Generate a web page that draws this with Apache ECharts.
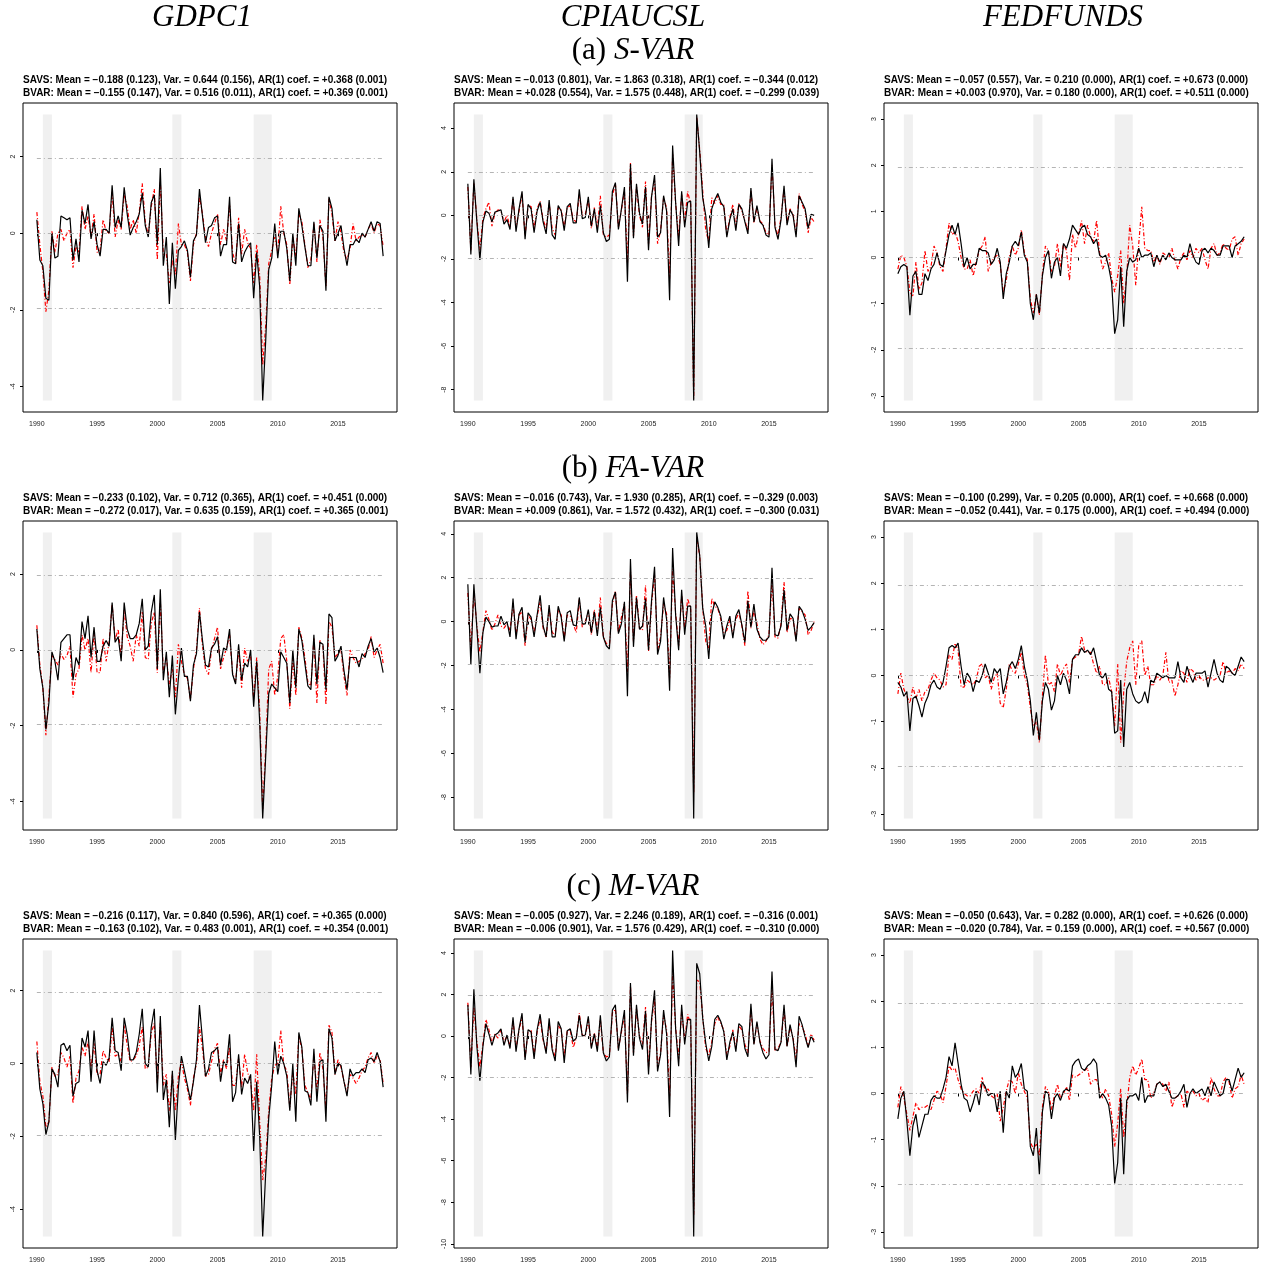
<!DOCTYPE html>
<html>
<head>
<meta charset="utf-8">
<script src="https://cdn.jsdelivr.net/npm/echarts@6/dist/echarts.min.js"></script>
<style>
  html, body { margin: 0; padding: 0; background: #fff; }
  #main { width: 1265px; height: 1269px; }
</style>
</head>
<body>
<div id="main"></div>
<script>
// quarterly dates 1990Q1 .. 2018Q4
const quarters = [];
for (let y = 1990; y <= 2018; y++) {
  for (let q = 0; q < 4; q++) quarters.push(y + q / 4);
}

const columnNames = ["GDPC1", "CPIAUCSL", "FEDFUNDS"];
const rowNames = [["(a) ", "S-VAR"], ["(b) ", "FA-VAR"], ["(c) ", "M-VAR"]];
const recessions = [[1990.5, 1991.25], [2001.25, 2002.0], [2008.0, 2009.5]];
const xTicks = [1990, 1995, 2000, 2005, 2010, 2015];
const bandLevels = [-1.96, 0, 1.96];

// ---- S-VAR ----
const gdpSavsA = [
  0.35, -0.7, -0.85, -1.7, -1.75, 0.0, -0.65, -0.6, 0.45, 0.4, 0.35, 0.4,
  -0.7, -0.15, -0.75, 0.6, 0.25, 0.75, -0.15, 0.3, -0.3, -0.6, 0.1, 0.1,
  0.0, 1.25, 0.15, 0.45, 0.15, 1.2, 0.5, -0.05, 0.15, 0.3, 0.5, 1.05,
  0.2, -0.1, 0.8, 1.0, -0.3, 1.7, -0.85, -0.1, -1.85, -0.25, -1.45, -0.45,
  -0.35, -0.2, -0.45, -1.15, -0.2, -0.05, 1.15, 0.45, -0.25, 0.15, 0.2, 0.4,
  0.45, -0.6, -0.3, -0.3, 0.95, -0.75, -0.8, 0.25, -0.75, -0.5, -0.35, -0.25,
  -1.7, -0.5, -1.4, -4.37, -2.8, -0.95, -0.65, 0.25, -0.65, 0.05, 0.05, -0.4,
  -1.25, 0.0, -0.85, 0.65, 0.2, -0.35, -0.85, -0.85, 0.3, -0.65, 0.2, 0.05,
  -1.5, 0.95, 0.65, -0.2, 0.0, 0.2, -0.4, -0.85, -0.3, -0.3, -0.15, -0.25,
  0.0, -0.1, 0.1, 0.3, 0.05, 0.3, 0.25, -0.6
];
const gdpBvarA = [
  0.55, -0.3, -1.0, -2.05, -1.5, 0.05, -0.5, 0.0, 0.1, -0.2, 0.0, 0.1,
  -0.9, -0.35, -0.5, 0.7, 0.1, 0.45, -0.1, 0.5, -0.5, -0.45, 0.35, 0.05,
  0.0, 1.1, -0.1, 0.35, 0.1, 1.0, 0.7, 0.1, 0.35, 0.0, 0.55, 1.3,
  0.3, -0.05, 0.7, 1.15, -0.7, 1.35, -0.55, -0.55, -1.3, -0.7, -1.1, 0.25,
  -0.3, -0.3, -0.5, -1.25, -0.3, 0.0, 0.95, 0.5, -0.1, -0.35, 0.0, 0.25,
  0.5, -0.3, 0.1, -0.2, 0.75, -0.5, -0.8, 0.4, -0.55, 0.1, -0.25, -0.4,
  -1.3, -0.3, -1.1, -3.45, -2.4, -0.8, -0.45, -0.1, -0.5, 0.7, 0.0, -0.3,
  -1.35, -0.1, -0.6, 0.5, 0.3, -0.3, -0.9, -0.7, 0.25, -0.75, 0.35, -0.1,
  -1.4, 0.9, 0.5, -0.2, 0.3, 0.0, -0.5, -0.7, -0.4, 0.25, -0.2, -0.1,
  -0.05, -0.1, 0.1, 0.25, 0.0, 0.25, 0.2, -0.35
];
const cpiSavsA = [
  1.45, -1.8, 1.65, -0.3, -2.05, -0.3, 0.2, 0.1, -0.3, 0.15, 0.2, 0.25,
  -0.4, -0.2, -0.65, 0.85, -0.75, 0.3, 1.1, -1.1, 0.5, 0.3, -0.8, 0.2,
  0.6, -0.3, -0.85, 0.7, -0.9, -1.1, 0.45, 0.2, -0.7, 0.4, 0.55, -0.35,
  -0.35, 1.2, -0.15, -0.1, 0.85, -0.5, 0.3, -0.8, 0.45, -0.8, -1.2, -1.1,
  1.1, 1.5, -0.65, 0.3, 1.3, -3.05, 2.35, -1.05, 1.45, 0.1, -0.4, 1.3,
  -1.6, 0.85, 1.85, -1.0, -0.8, 0.9, 0.2, -3.9, 3.2, 0.6, -1.4, 1.1,
  -0.55, 0.6, 0.65, -8.5, 4.63, 2.9, 0.8, 0.0, -1.5, 0.3, 0.7, 1.0,
  0.6, 0.4, -1.0, -0.2, 0.3, -0.7, 0.5, 0.3, -0.3, -0.85, 1.25, -0.3,
  0.45, -0.3, -0.45, -0.9, -1.0, 2.6, -0.55, -1.1, -0.2, 1.35, -0.45, 0.25,
  0.0, -1.0, 0.9, 0.6, 0.3, -0.6, 0.05, 0.0
];
const cpiBvarA = [
  1.3, -1.6, 1.5, -0.2, -1.6, -0.15, 0.3, 0.6, -0.5, 0.1, 0.25, 0.2,
  -0.3, 0.0, -0.55, 0.75, -0.55, 0.2, 0.95, -0.9, 0.45, 0.4, -0.6, 0.3,
  0.65, -0.2, -0.6, 0.55, -0.6, -0.9, 0.35, 0.25, -0.55, 0.35, 0.45, -0.2,
  -0.3, 0.95, 0.0, 0.05, 0.7, -0.6, 0.35, -0.6, 0.9, -0.9, -1.0, -0.9,
  0.9, 1.45, -0.55, 0.25, 1.1, -2.2, 2.4, -0.95, 1.3, 0.0, -0.55, 1.55,
  -1.3, 0.9, 1.6, -1.3, -0.7, 0.8, 0.35, -2.9, 2.8, 0.55, -1.0, 0.95,
  -0.3, 1.1, 0.5, -8.4, 4.5, 3.0, 1.1, -0.7, -1.2, 0.8, 0.55, 0.9,
  0.5, 0.5, -0.9, -0.1, 0.5, -0.55, 0.55, 0.2, -0.25, -0.7, 1.1, -0.35,
  0.35, -0.25, -0.4, -0.8, -0.9, 2.3, -0.45, -0.95, -0.1, 1.2, -0.35, 0.3,
  0.05, -0.85, 1.0, 0.5, 0.2, -0.8, -0.1, -0.3
];
const fedSavsA = [
  -0.35, -0.2, -0.15, -0.2, -1.25, -0.4, -0.3, -0.8, -0.8, -0.35, -0.5, -0.25,
  -0.15, 0.1, -0.15, -0.2, 0.15, 0.5, 0.7, 0.5, 0.75, 0.3, -0.2, 0.0,
  -0.25, -0.15, -0.15, 0.2, 0.15, 0.15, 0.1, -0.15, -0.05, 0.2, -0.1, -0.9,
  -0.35, -0.1, 0.25, 0.35, 0.25, 0.55, 0.05, -0.1, -1.0, -1.35, -0.8, -1.2,
  -0.4, 0.0, 0.15, -0.45, -0.1, 0.0, -0.4, 0.3, 0.2, 0.4, 0.7, 0.6,
  0.5, 0.65, 0.7, 0.5, 0.45, 0.3, 0.4, 0.05, 0.0, 0.05, -0.2, -0.55,
  -1.65, -1.35, -0.2, -1.5, -0.3, 0.0, -0.1, -0.05, 0.2, 0.0, 0.05, 0.05,
  0.1, -0.2, 0.05, -0.1, 0.05, -0.05, 0.1, 0.0, -0.05, -0.05, -0.05, 0.05,
  0.0, 0.3, 0.05, -0.1, -0.15, 0.15, 0.2, 0.1, 0.2, 0.15, 0.05, 0.05,
  0.25, 0.25, 0.25, 0.0, 0.25, 0.3, 0.35, 0.45
];
const fedBvarA = [
  -0.25, 0.05, 0.0, -0.2, -0.75, -0.85, -0.1, -0.7, -0.55, 0.15, -0.3, -0.2,
  0.25, 0.1, -0.2, -0.3, 0.2, 0.75, 0.5, 0.55, 0.35, 0.0, -0.25, -0.25,
  -0.05, -0.4, -0.1, 0.15, 0.25, 0.45, -0.3, -0.1, 0.0, 0.05, -0.15, -0.75,
  -0.5, 0.0, 0.25, 0.05, 0.2, 0.6, 0.1, -0.05, -0.9, -1.2, -0.8, -1.25,
  -0.35, 0.25, 0.15, -0.3, -0.2, 0.3, -0.2, 0.3, 0.15, -0.5, 0.5, 0.2,
  0.5, 0.8, 0.3, 0.7, 0.45, 0.35, 0.8, 0.1, -0.25, -0.1, 0.1, -0.45,
  -0.75, -0.4, 0.15, -1.0, -0.4, 0.7, 0.25, -0.6, 0.3, 1.1, 0.2, 0.15,
  0.15, -0.1, 0.05, -0.15, 0.1, 0.05, 0.0, 0.2, -0.05, -0.25, 0.0, 0.1,
  -0.05, 0.15, 0.0, 0.2, 0.1, 0.2, -0.05, -0.25, 0.2, 0.3, 0.05, 0.1,
  0.3, 0.2, 0.15, 0.4, 0.45, 0.05, 0.3, 0.4
];

// ---- FA-VAR ----
const gdpSavsB = [
  0.55, -0.5, -1.0, -2.1, -1.4, -0.05, -0.3, -0.8, 0.2, 0.3, 0.4, 0.4,
  -0.8, -0.2, -0.4, 0.75, 0.3, 0.9, -0.2, 0.6, -0.3, -0.3, 0.1, 0.25,
  0.1, 1.25, 0.2, 0.35, -0.3, 1.25, 0.55, 0.3, 0.3, 0.4, 0.7, 1.35,
  0.0, 0.1, 1.0, 1.45, -0.5, 1.6, -0.8, -0.05, -1.25, -0.15, -1.7, -0.75,
  0.05, -0.7, -0.7, -1.35, -0.4, -0.1, 1.0, 0.25, -0.4, -0.45, 0.05, 0.15,
  0.35, -0.4, 0.05, 0.0, 0.55, -0.65, -0.9, 0.15, -0.8, -0.35, -0.45, 0.0,
  -1.5, -0.3, -1.9, -4.45, -2.8, -1.15, -0.9, -1.0, -1.1, -0.05, -0.2, -0.35,
  -1.4, 0.0, -1.0, 0.55, 0.25, -0.35, -0.95, -1.05, 0.4, -0.9, 0.2, 0.15,
  -1.05, 0.95, 0.85, -0.3, -0.15, 0.1, -0.55, -1.05, -0.2, -0.2, -0.2, -0.45,
  -0.1, -0.2, 0.1, 0.3, -0.05, 0.05, -0.2, -0.6
];
const gdpBvarB = [
  0.65, -0.4, -1.0, -2.25, -1.2, -0.15, -0.25, -0.4, -0.1, -0.25, -0.15, 0.1,
  -1.25, -0.65, -0.5, 0.4, 0.0, 0.3, -0.6, 0.45, -0.6, -0.6, 0.3, -0.3,
  0.2, 1.2, 0.25, 0.55, -0.2, 1.05, 0.35, 0.1, -0.3, 0.4, 0.1, 1.0,
  -0.2, -0.25, 0.7, 1.0, -0.6, 1.3, -0.6, -0.2, -0.9, -0.5, -1.25, 0.15,
  -0.3, -0.65, -0.75, -1.3, -0.5, 0.0, 1.1, 0.1, -0.5, -0.65, 0.0, 0.3,
  0.6, -0.5, -0.2, 0.05, 0.4, -0.6, -0.85, 0.0, -1.0, 0.05, -0.3, -0.15,
  -1.3, -0.2, -1.6, -4.2, -2.6, -0.5, -0.3, -1.2, -0.7, 0.3, 0.4, -0.3,
  -1.55, -0.2, -1.2, 0.6, 0.3, -0.2, -0.85, -0.95, 0.3, -1.4, 0.25, 0.1,
  -1.45, 0.75, 0.6, -0.2, -0.1, 0.0, -0.7, -1.2, 0.0, -0.2, -0.35, -0.3,
  -0.25, -0.1, 0.0, 0.35, -0.2, 0.0, 0.15, -0.35
];
const cpiSavsB = [
  1.7, -1.95, 1.7, -0.3, -2.35, -0.5, 0.2, 0.0, -0.25, -0.2, -0.2, 0.25,
  -0.15, 0.0, -0.7, 1.05, -0.8, 0.35, 0.65, -0.95, 0.4, 0.2, -0.7, 0.3,
  1.2, -0.2, -0.7, 0.75, -0.7, -0.7, 0.7, 0.2, -0.9, 0.4, 0.5, -0.15,
  -0.2, 1.1, -0.1, -0.1, 0.55, -0.5, 0.45, -0.65, 0.65, -0.7, -1.1, -1.25,
  0.95, 1.35, -0.55, -0.1, 0.9, -3.4, 2.85, -1.15, 1.1, -0.35, -0.2, 1.05,
  -1.3, 0.95, 2.5, -1.5, -0.9, 1.1, 0.1, -3.15, 3.35, 0.3, -1.3, 1.45,
  -0.6, 0.7, 0.7, -8.97, 4.06, 3.0, 0.6, -0.2, -1.7, 0.3, 0.9, 0.65,
  0.25, -0.8, -0.2, 0.25, -0.75, 0.25, 0.55, -0.15, -0.95, 0.95, -0.25, 0.8,
  -0.35, -0.7, -0.85, -0.85, -0.7, 2.45, -0.6, -0.65, -0.2, 1.45, -0.4, 0.35,
  0.15, -0.9, 0.7, 0.5, 0.1, -0.4, -0.25, -0.05
];
const cpiBvarB = [
  1.3, -1.3, 1.35, -0.2, -1.4, -0.45, 0.5, 0.1, -0.4, -0.1, 0.3, -0.2,
  -0.3, -0.1, -0.4, 0.8, -0.6, 0.3, 0.45, -1.1, 0.3, 0.1, -0.5, 0.25,
  0.9, -0.3, -0.7, 0.6, -0.5, -0.6, 0.55, 0.3, -0.75, 0.3, 0.25, -0.1,
  -0.5, 1.0, -0.25, 0.0, 0.45, -0.6, 0.55, -0.5, 1.1, -0.7, -1.0, -1.1,
  0.8, 1.4, -0.5, 0.2, 0.8, -2.3, 2.3, -0.9, 1.2, -0.3, -0.4, 1.65,
  -1.35, 0.8, 2.15, -1.3, -0.7, 0.8, 0.35, -2.6, 2.4, 0.4, -1.1, 1.2,
  -0.3, 1.05, 0.55, -7.8, 3.8, 3.0, 0.6, -0.9, -1.2, 1.05, 0.7, 0.6,
  0.1, -0.5, -0.4, 0.1, -0.6, 0.1, 0.4, -0.2, -1.1, 1.4, -0.3, 0.5,
  -0.1, -0.8, -1.05, -0.9, -0.6, 1.9, -0.7, -0.75, -0.1, 1.8, -0.5, 0.15,
  0.1, -0.8, 0.6, 0.45, 0.3, -0.6, -0.4, 0.0
];
const fedSavsB = [
  -0.15, -0.25, -0.45, -0.35, -1.2, -0.5, -0.45, -0.65, -0.9, -0.6, -0.45, -0.2,
  -0.1, -0.25, -0.3, -0.15, 0.2, 0.6, 0.65, 0.6, 0.7, 0.2, -0.2, 0.05,
  -0.05, -0.35, -0.1, -0.15, 0.0, 0.25, 0.05, -0.15, 0.15, 0.05, 0.15, -0.4,
  -0.15, 0.2, 0.3, 0.15, 0.35, 0.65, 0.2, -0.1, -0.55, -1.3, -0.8, -1.4,
  -0.55, -0.15, -0.3, -0.75, -0.55, 0.0, -0.2, 0.05, -0.1, -0.4, 0.35, 0.45,
  0.45, 0.6, 0.5, 0.55, 0.45, 0.6, 0.3, 0.0, -0.05, 0.05, -0.3, -0.35,
  -1.25, -1.2, -0.1, -1.55, -0.3, -0.15, -0.4, -0.55, -0.6, -0.55, -0.35, -0.6,
  -0.1, -0.15, 0.05, 0.0, -0.05, 0.0, -0.05, -0.05, -0.05, 0.3, -0.05, -0.15,
  0.2, 0.0, -0.15, 0.05, 0.05, 0.05, 0.1, -0.25, 0.05, 0.35, 0.05, -0.1,
  -0.15, 0.2, 0.15, 0.05, 0.0, 0.2, 0.4, 0.3
];
const fedBvarB = [
  -0.4, 0.05, -0.3, -0.45, -0.6, -0.25, -0.5, -0.3, -0.55, -0.35, -0.3, -0.1,
  0.05, -0.05, -0.1, -0.25, -0.2, 0.45, 0.35, 0.7, 0.55, -0.25, -0.25, -0.1,
  -0.15, -0.2, -0.1, 0.2, 0.25, -0.05, 0.0, -0.3, -0.05, 0.05, -0.6, -0.7,
  -0.3, 0.25, 0.1, 0.05, 0.25, 0.5, 0.0, -0.2, -0.7, -1.1, -1.0, -1.45,
  -0.45, 0.45, -0.2, -0.15, -0.35, 0.25, 0.0, 0.15, 0.25, -0.15, 0.35, 0.4,
  0.45, 0.85, 0.55, 0.5, 0.5, 0.25, 0.05, 0.2, -0.2, -0.2, -0.05, -0.35,
  -1.1, 0.25, -1.45, -0.35, 0.3, 0.6, 0.75, -0.2, 0.65, 0.75, 0.0, 0.2,
  -0.2, -0.2, 0.0, -0.1, 0.0, 0.5, -0.15, -0.1, -0.45, -0.2, 0.1, 0.05,
  -0.15, 0.15, 0.1, -0.1, 0.0, -0.1, -0.1, -0.05, -0.05, -0.1, -0.05, 0.0,
  0.3, 0.05, 0.1, 0.05, 0.15, 0.1, 0.25, 0.15
];

// ---- M-VAR ----
const gdpSavsC = [
  0.3, -0.7, -1.1, -1.95, -1.6, -0.15, -0.3, -0.65, 0.5, 0.55, 0.35, 0.5,
  -0.9, -0.55, -0.5, 0.7, 0.45, 0.9, -0.5, 0.9, -0.2, -0.55, 0.05, -0.05,
  0.15, 1.25, 0.35, 0.3, -0.2, 1.25, 0.8, 0.1, 0.1, 0.3, 0.8, 1.5,
  0.0, -0.1, 1.0, 1.5, -0.8, 1.3, -1.0, -0.45, -1.75, -0.2, -2.1, -0.65,
  0.2, -0.2, -0.6, -1.0, -0.5, 0.1, 1.6, 0.65, -0.35, -0.15, 0.3, 0.35,
  0.45, -0.5, 0.05, -0.05, 0.8, -1.05, -0.8, 0.25, -0.85, -0.4, -0.55, -0.3,
  -2.4, -0.5, -2.0, -4.75, -3.0, -1.5, -0.6, 0.6, -0.3, 0.2, 0.0, -0.35,
  -1.3, 0.0, -1.6, 0.85, 0.45, -0.75, -0.8, -1.15, 0.4, -1.05, 0.05, 0.1,
  -1.6, 0.95, 0.7, -0.3, 0.0, -0.05, -0.5, -0.9, -0.15, -0.35, -0.25, -0.25,
  -0.15, -0.25, 0.1, 0.15, 0.05, 0.3, 0.05, -0.65
];
const gdpBvarC = [
  0.6, -0.5, -0.9, -1.75, -1.6, -0.1, -0.35, -0.3, 0.3, 0.15, -0.1, 0.2,
  -1.1, -0.4, -0.2, 0.45, 0.2, 0.6, -0.1, 0.55, -0.3, -0.3, 0.35, 0.15,
  0.05, 1.0, 0.2, 0.25, 0.05, 1.05, 0.5, 0.05, 0.1, 0.2, 0.5, 1.0,
  -0.15, -0.1, 0.85, 1.1, -0.55, 1.1, -0.6, -0.3, -1.3, -0.3, -1.3, -0.35,
  0.05, -0.4, -0.7, -1.15, -0.4, 0.0, 1.0, 0.4, -0.35, -0.3, 0.05, 0.4,
  0.55, -0.3, 0.1, -0.15, 0.45, -0.6, -0.6, 0.15, -0.65, 0.25, -0.25, -0.5,
  -1.3, 0.25, -1.6, -3.2, -2.6, -1.3, -0.4, -0.05, 0.0, 0.9, -0.05, -0.2,
  -1.2, -0.25, -0.85, 0.75, 0.4, -0.6, -0.8, -1.0, 0.25, -0.8, 0.3, -0.15,
  -1.25, 1.05, 0.85, -0.3, 0.1, -0.1, -0.5, -0.8, -0.3, -0.4, -0.55, -0.4,
  -0.2, -0.1, 0.15, 0.3, 0.0, 0.2, 0.1, -0.55
];
const cpiSavsC = [
  1.5, -1.85, 2.25, -0.5, -2.15, -0.5, 0.6, 0.1, -0.45, 0.05, 0.15, 0.35,
  -0.45, 0.05, -0.6, 0.9, -0.75, 0.35, 1.1, -1.15, 0.3, 0.2, -1.1, 0.3,
  1.05, -0.1, -0.85, 0.85, -0.65, -1.2, 0.7, 0.35, -1.3, 0.25, 0.35, -0.25,
  -0.1, 1.0, 0.0, 0.05, 0.95, -0.6, 0.1, -0.75, 1.0, -0.8, -1.2, -1.0,
  1.25, 1.5, -0.7, 0.3, 1.25, -3.2, 2.55, -0.95, 1.5, -0.1, -0.65, 1.2,
  -1.85, 0.8, 2.2, -1.7, -0.9, 1.25, 0.1, -3.9, 4.12, 0.35, -1.45, 1.5,
  -0.4, 0.8, 0.8, -9.65, 3.5, 3.0, 0.85, -0.35, -1.2, -0.5, 0.8, 1.0,
  0.7, 0.2, -1.15, -0.3, 0.2, -0.75, 0.6, 0.45, -0.6, -1.0, 1.55, -0.4,
  0.7, -0.3, -0.8, -1.1, -0.9, 3.1, -0.65, -0.7, -0.3, 1.5, -0.5, 0.55,
  -0.15, -1.5, 0.95, 0.55, -0.05, -0.55, 0.0, -0.3
];
const cpiBvarC = [
  1.6, -1.5, 1.4, -0.3, -1.5, -0.4, 0.8, 0.3, -0.35, 0.1, -0.1, 0.3,
  -0.3, 0.0, -0.5, 0.7, -0.6, 0.3, 0.9, -1.05, 0.25, 0.3, -0.9, 0.2,
  0.85, -0.2, -0.7, 0.65, -0.55, -1.0, 0.5, 0.3, -1.0, 0.25, 0.3, -0.55,
  -0.1, 1.1, 0.05, 0.0, 0.8, -0.5, 0.15, -0.6, 0.8, -0.8, -1.0, -0.95,
  1.1, 1.3, -0.6, 0.2, 1.0, -2.8, 2.4, -0.8, 1.3, 0.0, -0.4, 1.4,
  -1.5, 0.7, 1.8, -1.5, -0.8, 1.0, 0.3, -2.9, 3.0, 0.4, -1.1, 1.2,
  -0.2, 1.05, 0.55, -8.6, 2.7, 2.6, 0.9, -0.6, -0.9, -0.3, 0.6, 0.9,
  0.6, 0.3, -0.9, -0.5, 0.3, -0.6, 0.5, 0.3, -0.4, -0.8, 1.3, -0.4,
  0.6, -0.25, -0.6, -0.8, -0.75, 2.4, -0.7, -0.6, -0.3, 1.3, -0.5, 0.45,
  -0.1, -1.1, 0.6, 0.45, 0.1, -0.5, 0.1, -0.2
];
const fedSavsC = [
  -0.55, -0.1, 0.05, -0.6, -1.35, -0.7, -0.45, -0.95, -0.7, -0.45, -0.45, -0.15,
  -0.05, -0.1, -0.1, 0.1, 0.35, 0.8, 0.6, 1.1, 0.65, 0.2, -0.1, -0.15,
  -0.4, -0.2, 0.05, -0.25, 0.25, 0.15, -0.05, 0.0, 0.0, -0.4, 0.05, -0.85,
  0.05, -0.1, 0.6, 0.35, 0.45, 0.65, 0.1, 0.05, -1.15, -1.35, -0.75, -1.75,
  -0.4, 0.05, 0.0, -0.55, -0.1, 0.0, -0.15, 0.05, 0.1, 0.05, 0.6, 0.7,
  0.75, 0.55, 0.5, 0.6, 0.65, 0.75, 0.65, -0.1, 0.0, -0.1, -0.25, -0.7,
  -1.95, -1.5, -0.1, -1.75, -0.15, -0.05, -0.05, 0.0, -0.15, 0.35, -0.2, -0.05,
  -0.05, -0.05, 0.2, 0.25, 0.15, 0.2, 0.05, -0.1, -0.1, -0.05, 0.05, 0.2,
  -0.3, 0.0, 0.1, 0.0, 0.05, 0.1, -0.05, 0.15, -0.05, 0.25, 0.1, -0.05,
  0.0, 0.3, 0.3, 0.05, 0.3, 0.55, 0.35, 0.45
];
const fedBvarC = [
  -0.3, 0.15, -0.1, -0.45, -0.8, -0.5, -0.2, -0.35, -0.3, -0.3, -0.25, -0.35,
  -0.15, 0.05, 0.0, -0.2, 0.15, 0.6, 0.5, 0.55, 0.3, 0.1, 0.0, -0.05,
  -0.05, 0.05, 0.1, 0.0, 0.35, 0.05, 0.1, -0.05, -0.1, 0.0, -0.6, -0.3,
  0.05, 0.3, 0.25, 0.0, 0.45, 0.2, 0.05, -0.1, -1.05, -1.2, -1.1, -1.35,
  -0.3, 0.15, 0.05, -0.35, -0.05, 0.2, -0.1, 0.0, 0.15, -0.15, 0.4, 0.35,
  0.4, 0.45, 0.5, 0.55, 0.2, 0.3, 0.3, 0.05, -0.1, 0.1, -0.05, -0.45,
  -1.15, -0.65, 0.1, -0.95, -0.3, 0.35, 0.6, 0.4, 0.55, 0.75, 0.3, 0.3,
  -0.1, 0.0, 0.2, 0.25, 0.2, 0.05, 0.25, -0.3, -0.1, -0.05, 0.0, -0.3,
  0.05, 0.0, 0.05, -0.05, 0.0, -0.15, -0.1, -0.2, 0.35, 0.1, -0.05, -0.05,
  0.25, 0.35, 0.25, -0.1, 0.1, 0.15, 0.4, 0.2
];

const panelSeries = [
  [[gdpSavsA, gdpBvarA], [cpiSavsA, cpiBvarA], [fedSavsA, fedBvarA]],
  [[gdpSavsB, gdpBvarB], [cpiSavsB, cpiBvarB], [fedSavsB, fedBvarB]],
  [[gdpSavsC, gdpBvarC], [cpiSavsC, cpiBvarC], [fedSavsC, fedBvarC]],
];

const panelStats = [
  [
    ["SAVS: Mean = \u22120.188 (0.123), Var. = 0.644 (0.156), AR(1) coef. = +0.368 (0.001)",
     "BVAR: Mean = \u22120.155 (0.147), Var. = 0.516 (0.011), AR(1) coef. = +0.369 (0.001)"],
    ["SAVS: Mean = \u22120.013 (0.801), Var. = 1.863 (0.318), AR(1) coef. = \u22120.344 (0.012)",
     "BVAR: Mean = +0.028 (0.554), Var. = 1.575 (0.448), AR(1) coef. = \u22120.299 (0.039)"],
    ["SAVS: Mean = \u22120.057 (0.557), Var. = 0.210 (0.000), AR(1) coef. = +0.673 (0.000)",
     "BVAR: Mean = +0.003 (0.970), Var. = 0.180 (0.000), AR(1) coef. = +0.511 (0.000)"],
  ],
  [
    ["SAVS: Mean = \u22120.233 (0.102), Var. = 0.712 (0.365), AR(1) coef. = +0.451 (0.000)",
     "BVAR: Mean = \u22120.272 (0.017), Var. = 0.635 (0.159), AR(1) coef. = +0.365 (0.001)"],
    ["SAVS: Mean = \u22120.016 (0.743), Var. = 1.930 (0.285), AR(1) coef. = \u22120.329 (0.003)",
     "BVAR: Mean = +0.009 (0.861), Var. = 1.572 (0.432), AR(1) coef. = \u22120.300 (0.031)"],
    ["SAVS: Mean = \u22120.100 (0.299), Var. = 0.205 (0.000), AR(1) coef. = +0.668 (0.000)",
     "BVAR: Mean = \u22120.052 (0.441), Var. = 0.175 (0.000), AR(1) coef. = +0.494 (0.000)"],
  ],
  [
    ["SAVS: Mean = \u22120.216 (0.117), Var. = 0.840 (0.596), AR(1) coef. = +0.365 (0.000)",
     "BVAR: Mean = \u22120.163 (0.102), Var. = 0.483 (0.001), AR(1) coef. = +0.354 (0.001)"],
    ["SAVS: Mean = \u22120.005 (0.927), Var. = 2.246 (0.189), AR(1) coef. = \u22120.316 (0.001)",
     "BVAR: Mean = \u22120.006 (0.901), Var. = 1.576 (0.429), AR(1) coef. = \u22120.310 (0.000)"],
    ["SAVS: Mean = \u22120.050 (0.643), Var. = 0.282 (0.000), AR(1) coef. = +0.626 (0.000)",
     "BVAR: Mean = \u22120.020 (0.784), Var. = 0.159 (0.000), AR(1) coef. = +0.567 (0.000)"],
  ],
];

// y ticks per panel
const gdpTicks = [-4, -2, 0, 2];
const cpiTicks = [-8, -6, -4, -2, 0, 2, 4];
const cpiTicksC = [-10, -8, -6, -4, -2, 0, 2, 4];
const fedTicks = [-3, -2, -1, 0, 1, 2, 3];
const panelTicks = [
  [gdpTicks, cpiTicks, fedTicks],
  [gdpTicks, cpiTicks, fedTicks],
  [gdpTicks, cpiTicksC, fedTicks],
];

// layout
const gridLefts = [23, 454, 884];
const gridTops = [103, 521, 939];
const gridW = 374, gridH = 309;
const xMin = 1988.85, xMax = 2019.9;
const FED_LIM = 3.1, GDP_TOP = 3.1;
const serif = "'Liberation Serif', 'DejaVu Serif', serif";

const chart = echarts.init(document.getElementById("main"));

const grid = [], xAxis = [], yAxis = [], series = [], graphic = [];

columnNames.forEach((name, c) => {
  graphic.push({
    type: "text",
    x: gridLefts[c] + gridW / 2 - 8,
    y: 18,
    style: {
      text: name,
      font: "italic 31px " + serif,
      fill: "#000",
      align: "center",
      verticalAlign: "middle",
      textAlign: "center",
      textVerticalAlign: "middle",
    },
  });
});

for (let r = 0; r < 3; r++) {
  graphic.push({
    type: "text",
    x: 633,
    y: gridTops[r] - 52,
    style: {
      text: rowNames[r][0] + "{i|" + rowNames[r][1] + "}",
      fontFamily: serif,
      fontSize: 31,
      fill: "#000",
      align: "center",
      verticalAlign: "middle",
      textAlign: "center",
      textVerticalAlign: "middle",
      rich: {
        i: { fontFamily: serif, fontSize: 31, fontStyle: "italic", fill: "#000" },
      },
    },
  });

  for (let c = 0; c < 3; c++) {
    const idx = r * 3 + c;
    const [savs, bvar] = panelSeries[r][c];
    const all = savs.concat(bvar);
    let lo = Math.min(...all), hi = Math.max(...all);
    if (c === 2) { lo = Math.min(lo, -FED_LIM); hi = Math.max(hi, FED_LIM); }
    if (c === 0) { hi = Math.max(hi, GDP_TOP); }
    const pad = (hi - lo) * 0.04;

    grid.push({
      left: gridLefts[c],
      top: gridTops[r],
      width: gridW,
      height: gridH,
      show: true,
      borderColor: "#000",
      borderWidth: 1,
      backgroundColor: "transparent",
    });
    xAxis.push({
      type: "value",
      gridIndex: idx,
      min: xMin,
      max: xMax,
      axisLine: { show: false },
      splitLine: { show: false },
      axisTick: { show: true, length: 3, customValues: xTicks, lineStyle: { color: "#000" } },
      axisLabel: {
        customValues: xTicks,
        formatter: (v) => String(v),
        fontSize: 7,
        color: "#222",
        margin: 9,
        fontFamily: "'Liberation Sans', Arial, sans-serif",
      },
    });
    yAxis.push({
      type: "value",
      gridIndex: idx,
      min: lo - pad,
      max: hi + pad,
      axisLine: { show: false },
      splitLine: { show: false },
      axisTick: { show: true, length: 3, customValues: panelTicks[r][c], lineStyle: { color: "#000" } },
      axisLabel: {
        customValues: panelTicks[r][c],
        formatter: (v) => String(v),
        rotate: 90,
        fontSize: 7,
        color: "#222",
        margin: 6,
        fontFamily: "'Liberation Sans', Arial, sans-serif",
      },
    });

    // recession shading + reference lines
    series.push({
      type: "line",
      xAxisIndex: idx,
      yAxisIndex: idx,
      data: [],
      silent: true,
      z: 1,
      markArea: {
        silent: true,
        itemStyle: { color: "#f0f0f0" },
        data: recessions.map(([a, b]) => [
          { coord: [a, lo] },
          { coord: [b, hi] },
        ]),
      },
      markLine: {
        silent: true,
        symbol: ["none", "none"],
        label: { show: false },
        lineStyle: { color: "#b4b4b4", width: 1, type: [4, 3, 1, 3] },
        data: bandLevels.map((v) => [
          { coord: [quarters[0], v] },
          { coord: [quarters[quarters.length - 1], v] },
        ]),
      },
    });

    series.push({
      name: "BVAR",
      type: "line",
      xAxisIndex: idx,
      yAxisIndex: idx,
      data: bvar.map((v, i) => [quarters[i], v]),
      showSymbol: false,
      z: 3,
      lineStyle: { color: "#ff0000", width: 1.2, type: [4, 2, 1, 2] },
    });
    series.push({
      name: "SAVS",
      type: "line",
      xAxisIndex: idx,
      yAxisIndex: idx,
      data: savs.map((v, i) => [quarters[i], v]),
      showSymbol: false,
      z: 4,
      lineStyle: { color: "#000", width: 1.2 },
    });

    panelStats[r][c].forEach((line, k) => {
      graphic.push({
        type: "text",
        x: gridLefts[c],
        y: gridTops[r] - 23 + k * 13,
        style: {
          text: line,
          font: "bold 10px 'Liberation Sans', Arial, sans-serif",
          fill: "#000",
          align: "left",
          verticalAlign: "middle",
          textAlign: "left",
          textVerticalAlign: "middle",
        },
      });
    });
  }
}

chart.setOption({
  animation: false,
  backgroundColor: "#fff",
  grid,
  xAxis,
  yAxis,
  series,
  graphic,
});
</script>
</body>
</html>
